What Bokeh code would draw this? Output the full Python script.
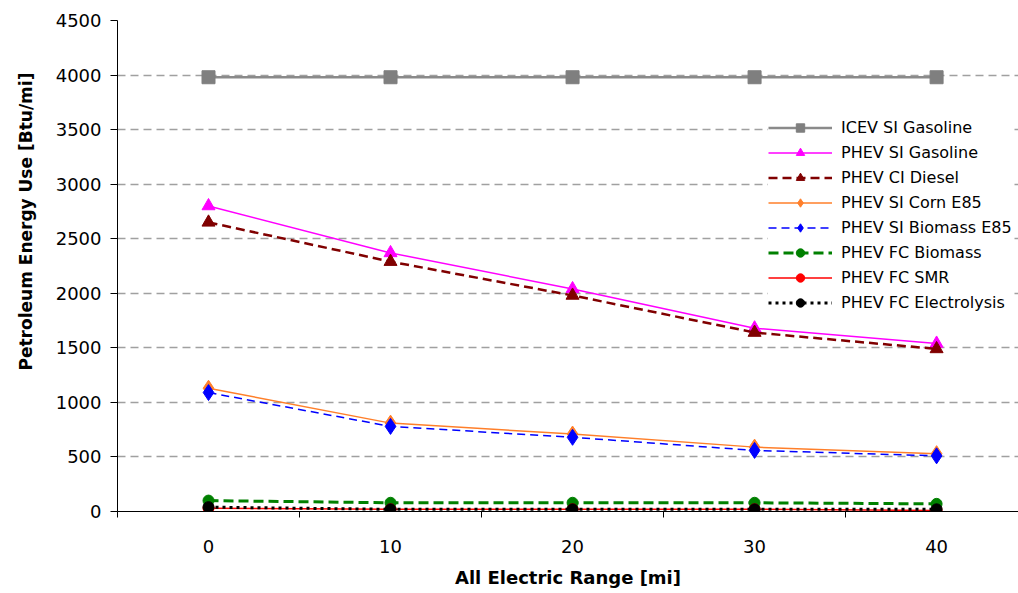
import numpy as np
from bokeh.plotting import figure
from bokeh.models import FixedTicker, Legend, LegendItem, Title, Grid, Range1d
from bokeh.embed import file_html
from bokeh.resources import INLINE

# ---- data ----
electric_range_mi = [0, 10, 20, 30, 40]
icev_si_gasoline = [3980, 3980, 3980, 3980, 3980]
phev_si_gasoline = [2800, 2370, 2040, 1680, 1540]
phev_ci_diesel = [2650, 2290, 1980, 1640, 1490]
phev_si_corn_e85 = [1130, 810, 710, 590, 530]
phev_si_biomass_e85 = [1090, 780, 680, 560, 510]
phev_fc_biomass = [100, 80, 80, 80, 70]
phev_fc_smr = [30, 20, 20, 20, 10]
phev_fc_electrolysis = [40, 20, 20, 20, 20]

x_tick_values = [0, 10, 20, 30, 40]
x_between_ticks = [-5, 5, 15, 25, 35]
y_tick_values = [0, 500, 1000, 1500, 2000, 2500, 3000, 3500, 4000, 4500]
y_grid_values = [500, 1000, 1500, 2000, 2500, 3000, 3500, 4000]
y_top_value = [4500]

FONT = "DejaVu Sans"

p = figure(width=1018, height=593, output_backend="svg", toolbar_location=None,
           x_range=Range1d(-5, 44.5), y_range=Range1d(0, 4500),
           min_border_left=117, min_border_top=20, min_border_bottom=82,
           min_border_right=0)
p.outline_line_color = None
p.background_fill_color = "white"
p.border_fill_color = "white"

# grids
p.xgrid.visible = False
p.ygrid.ticker = FixedTicker(ticks=y_grid_values)
p.ygrid.grid_line_color = "#a0a0a0"
p.ygrid.grid_line_dash = "8 5"
p.ygrid.grid_line_width = 1.5
top_grid = Grid(dimension=1, ticker=FixedTicker(ticks=y_top_value),
                grid_line_color="#a0a0a0", grid_line_width=2.5)
p.add_layout(top_grid)

# x axis
xa = p.xaxis[0]
xa.ticker = FixedTicker(ticks=x_tick_values, minor_ticks=x_between_ticks)
xa.major_tick_line_color = None
xa.major_tick_out = 0
xa.major_tick_in = 0
xa.minor_tick_line_color = "black"
xa.minor_tick_out = 6
xa.minor_tick_in = 0
xa.axis_line_color = "black"
xa.major_label_standoff = 22
xa.major_label_text_font = FONT
xa.major_label_text_font_size = "18px"
xa.major_label_text_color = "black"
xa.axis_label = "All Electric Range [mi]"
xa.axis_label_standoff = 11
xa.axis_label_text_font = FONT
xa.axis_label_text_font_style = "bold"
xa.axis_label_text_font_size = "18px"
xa.axis_label_text_color = "black"

# y axis
ya = p.yaxis[0]
ya.ticker = FixedTicker(ticks=y_tick_values, minor_ticks=[])
ya.major_tick_out = 7
ya.major_tick_in = 0
ya.major_tick_line_color = "black"
ya.minor_tick_line_color = None
ya.axis_line_color = "black"
ya.major_label_standoff = 9
ya.major_label_text_font = FONT
ya.major_label_text_font_size = "18px"
ya.major_label_text_color = "black"

ytitle = Title(text="Petroleum Energy Use [Btu/mi]", align="left", offset=141,
               standoff=29, vertical_align="top",
               text_font=FONT, text_font_style="bold", text_font_size="17px",
               text_color="black")
p.add_layout(ytitle, "left")

series = [
    ("ICEV SI Gasoline", icev_si_gasoline, "#8a8a8a", 2.5, "solid", "square", "#7f7f7f", 13),
    ("PHEV SI Gasoline", phev_si_gasoline, "#ff00ff", 1.5, "solid", "triangle", "#ff00ff", 13),
    ("PHEV CI Diesel", phev_ci_diesel, "#800000", 2.5, "9 5", "triangle", "#800000", 13),
    ("PHEV SI Corn E85", phev_si_corn_e85, "#ff7f2a", 1.5, "solid", "diamond", "#ff7f2a", 16),
    ("PHEV SI Biomass E85", phev_si_biomass_e85, "#0000ff", 1.5, "8 5", "diamond", "#0000ff", 16),
    ("PHEV FC Biomass", phev_fc_biomass, "#008000", 3, "10 5", "circle", "#008000", 11),
    ("PHEV FC SMR", phev_fc_smr, "#ff0000", 1.5, "solid", "circle", "#ff0000", 11),
    ("PHEV FC Electrolysis", phev_fc_electrolysis, "#000000", 3, "3 4", "circle", "#000000", 11),
]

items = []
for label, vals, color, lw, dash, marker, mcolor, msize in series:
    rl = p.line(electric_range_mi, vals, line_color=color, line_width=lw, line_dash=dash)
    rm = p.scatter(electric_range_mi, vals, marker=marker, size=msize,
                   fill_color=mcolor, line_color=mcolor)
    items.append(LegendItem(label=label, renderers=[rl, rm]))

legend = Legend(items=items, location=(651, 198), padding=12, margin=0, spacing=4,
                glyph_height=21, glyph_width=64, label_height=21, label_standoff=9,
                label_text_font=FONT, label_text_font_size="16px",
                label_text_color="black",
                border_line_color=None, background_fill_color="white",
                background_fill_alpha=1.0)
p.add_layout(legend)

open("out.html", "w").write(file_html(p, INLINE))
